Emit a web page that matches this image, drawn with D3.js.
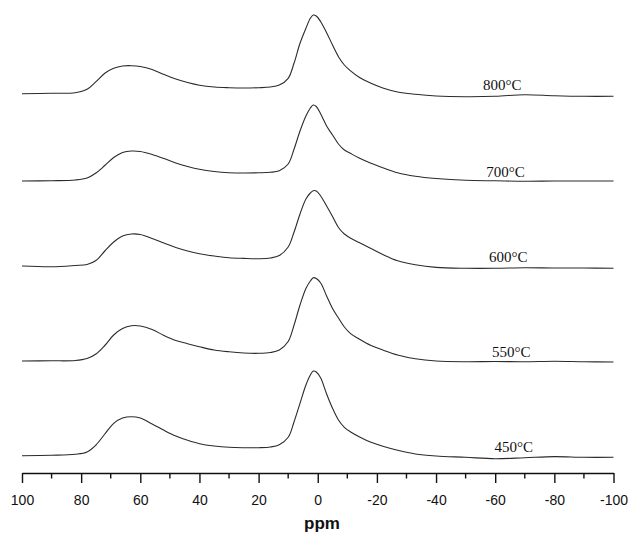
<!DOCTYPE html>
<html>
<head>
<meta charset="utf-8">
<script src="https://cdn.jsdelivr.net/npm/d3@7"></script>
<style>
  html, body { margin: 0; padding: 0; background: #fff; }
  svg { display: block; }
</style>
</head>
<body>
<svg id="chart" width="631" height="535"></svg>
<script>
// Chemical shift sample positions (ppm), shared by every spectrum
const ppm = [100, 90, 82, 78, 75, 72, 69, 66, 63, 60, 56, 52, 48, 44, 40, 35, 30, 25, 20, 16,
             13, 10, 8, 6, 4, 2.5, 1.5, 0.5, -1, -3, -5, -7, -9, -11, -14, -18, -22, -27, -33, -40,
             -50, -60, -70, -80, -90, -100];

// Calcination temperatures, top to bottom
const temperatures = ["800°C", "700°C", "600°C", "550°C", "450°C"];

// Signal intensity (a.u.) at each ppm position
const int800 = [0.3, 0.7, 1.3, 4.7, 12.3, 20.7, 25.7, 28, 28.3, 27.5, 24.5, 19.5, 15, 11.5, 8.8, 7, 6.3, 6, 6.3, 7,
                9, 15.7, 31, 50.7, 65.7, 75.7, 79, 78, 72.3, 61.3, 49, 37.3, 29, 23.3, 16.7, 10.7, 6, 2, -0.3, -2,
                -2.7, -2.3, -0.7, -1.7, -2.3, -2.3];
const int700 = [0, 0.3, 1, 3, 8, 15.5, 23.5, 28.5, 30, 29.5, 26.5, 22.5, 18, 14.5, 11.7, 9.5, 8.3, 8, 8.2, 8.7,
                10.3, 17, 32, 50, 65, 73, 76, 74.5, 67, 55, 46, 37, 31, 27.7, 23, 17.7, 13.3, 8.3, 4.8, 2.5,
                0.7, 0.2, -0.3, 0, 0, 0];
const int600 = [0, -0.8, 0.5, 1.5, 5.5, 15, 24, 30, 32, 31.5, 27.5, 23, 18.5, 15, 12.3, 10, 8.2, 7.6, 7.3, 8,
                10.5, 19, 34, 52, 67, 73, 75.3, 75, 70, 60, 49.5, 38.5, 32, 28, 23.5, 17.5, 11.5, 5.3, 1.2, -1.4,
                -2.3, -2.3, -1.7, -2, -2, -2.3];
const int550 = [0, 0.2, 0.5, 2.5, 7, 15.5, 26, 32.5, 35.2, 35, 31.5, 25.5, 20.5, 17.3, 14.3, 11, 9.2, 8, 7.7, 8.5,
                11, 19.5, 36, 56, 72.5, 80, 83.3, 82.5, 78, 65, 52.5, 43, 34, 27.7, 22, 15.5, 11, 6, 2.2, 0,
                -0.7, -0.5, -0.8, -0.3, -0.8, -1];
const int450 = [0.3, 0.7, 1.7, 4, 11, 22, 32.7, 38, 39.3, 38, 32, 25.7, 20, 15.7, 12.3, 10, 8.7, 8.3, 8.3, 9,
                11.3, 18.7, 34.3, 52.7, 71, 81, 85, 84, 78, 62, 47.7, 36, 28.7, 24.3, 19.3, 13.7, 9.7, 5.7, 2, 0,
                -1.3, -2.7, -1.7, -0.6, -1.3, -1.3];

// Vertical stacking offset of each trace (a.u.)
const stackOffsets = [379, 292, 207, 112, 17];

// Where each temperature label sits along the shift axis (ppm)
const labelPpm = [-62.4, -63.5, -64.4, -65.4, -66.3];

// Axis ticks
const majorTicks = [100, 80, 60, 40, 20, 0, -20, -40, -60, -80, -100];
const minorTicks = [90, 70, 50, 30, 10, -10, -30, -50, -70, -90];

const intensities = [int800, int700, int600, int550, int450];

const svg = d3.select("#chart");
svg.append("rect").attr("width", 631).attr("height", 535).attr("fill", "#fff");

const x = d3.scaleLinear().domain([100, -100]).range([22, 613.5]);
const y = d3.scaleLinear().domain([0, 460]).range([473, 13]);

const line = d3.line()
  .x(d => x(d[0]))
  .y(d => y(d[1]))
  .curve(d3.curveCatmullRom.alpha(0.5));

const traces = svg.append("g").attr("class", "traces");
intensities.forEach((vals, i) => {
  const pts = ppm.map((p, k) => [p, vals[k] + stackOffsets[i]]);
  traces.append("path")
    .datum(pts)
    .attr("d", line)
    .attr("fill", "none")
    .attr("stroke", "#2b2b2b")
    .attr("stroke-width", 1.1);
  traces.append("text")
    .attr("x", x(labelPpm[i]))
    .attr("y", y(stackOffsets[i]) - 4)
    .attr("text-anchor", "middle")
    .attr("font-family", "'Liberation Serif', 'Times New Roman', serif")
    .attr("font-size", 15)
    .attr("fill", "#111")
    .text(temperatures[i]);
});

// Bottom shift axis with major and minor ticks
const axisG = svg.append("g").attr("transform", `translate(0,${y(0)})`);
axisG.call(d3.axisBottom(x)
  .tickValues(majorTicks)
  .tickSizeInner(10)
  .tickSizeOuter(0)
  .tickPadding(12)
  .tickFormat(d => String(d)));
axisG.selectAll(".minor")
  .data(minorTicks)
  .join("line")
  .attr("class", "minor")
  .attr("x1", d => x(d)).attr("x2", d => x(d))
  .attr("y1", 0).attr("y2", 5.5)
  .attr("stroke", "#111").attr("stroke-width", 1.4);
axisG.select(".domain").attr("stroke", "#111").attr("stroke-width", 1.5);
axisG.selectAll(".tick line").attr("stroke", "#111").attr("stroke-width", 1.4);
axisG.selectAll(".tick text")
  .attr("font-family", "'Liberation Sans', Arial, sans-serif")
  .attr("font-size", 14)
  .attr("fill", "#111");

svg.append("text")
  .attr("x", 322)
  .attr("y", 529)
  .attr("text-anchor", "middle")
  .attr("font-family", "'Liberation Sans', Arial, sans-serif")
  .attr("font-weight", "bold")
  .attr("font-size", 17)
  .attr("fill", "#111")
  .text("ppm");
</script>
</body>
</html>
